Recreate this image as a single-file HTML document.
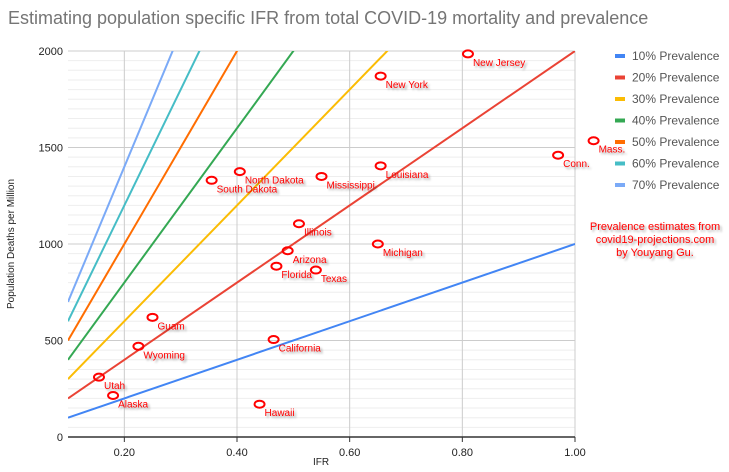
<!DOCTYPE html>
<html><head><meta charset="utf-8"><style>
body{margin:0;background:#fff;font-family:"Liberation Sans",Arial,sans-serif}
svg text{font-family:"Liberation Sans",Arial,sans-serif}
</style></head><body>
<svg width="729" height="467" viewBox="0 0 729 467">
<defs><filter id="sh" x="-10%" y="-30%" width="130%" height="180%"><feDropShadow dx="2" dy="2" stdDeviation="1" flood-color="#000" flood-opacity="0.35"/></filter>
<clipPath id="pc"><rect x="68" y="51" width="507" height="386"/></clipPath></defs>
<text x="8" y="24" font-size="18" fill="#757575">Estimating population specific IFR from total COVID-19 mortality and prevalence</text>
<g id="grid"></g><g id="lines" clip-path="url(#pc)"></g><g id="pts"></g><g id="axes"></g><g id="legend"></g>
<text x="14" y="244" font-size="10" fill="#222" transform="rotate(-90 14 244)" text-anchor="middle">Population Deaths per Million</text>
<text x="321" y="465" font-size="10" fill="#222" text-anchor="middle">IFR</text>
<g fill="#f00" font-size="11" text-anchor="middle" filter="url(#sh)">
<text x="655" y="230">Prevalence estimates from</text><text x="655" y="243">covid19-projections.com</text><text x="655" y="256">by Youyang Gu.</text></g>
</svg>
<script>
const prevalences=[10,20,30,40,50,60,70];
const seriesColors=["#4285f4","#ea4335","#fbbc04","#34a853","#ff6d01","#46bdc6","#7baaf7"];
const states=["New Jersey","New York","Mass.","Conn.","Louisiana","Mississippi","North Dakota","South Dakota","Illinois","Michigan","Arizona","Florida","Texas","Guam","Wyoming","California","Utah","Alaska","Hawaii"];
const stateIFR=[0.81,0.655,1.033,0.97,0.655,0.55,0.405,0.355,0.51,0.65,0.49,0.47,0.54,0.25,0.225,0.465,0.155,0.18,0.44];
const stateDeaths=[1985,1870,1535,1460,1405,1350,1375,1330,1105,1000,965,885,865,620,470,505,310,215,170];
const xTicks=[0.2,0.4,0.6,0.8,1.0];
const yTicks=[0,500,1000,1500,2000];
const NS="http://www.w3.org/2000/svg";
const X=v=>68+(v-0.1)*507/0.9, Y=v=>437-v*386/2000;
function mk(p,t,a){const e=document.createElementNS(NS,t);for(const k in a)e.setAttribute(k,a[k]);document.getElementById(p).appendChild(e);return e;}
for(let v=50;v<2000;v+=50){if(v%500){const l=mk('grid','line',{x1:68,x2:575,y1:Y(v),y2:Y(v),stroke:'#eee'});

}}
yTicks.forEach(v=>{if(v>0){const l=mk('grid','line',{x1:68,x2:575,y1:Y(v),y2:Y(v),stroke:'#ccc'});

}
const t=mk('axes','text',{x:63,y:Y(v)+4,'font-size':11,fill:'#222','text-anchor':'end'});t.textContent=v;

});
xTicks.forEach(v=>{const l=mk('grid','line',{x1:X(v),x2:X(v),y1:51,y2:437,stroke:'#ccc'});


const k=mk('axes','line',{x1:X(v),x2:X(v),y1:437,y2:442,stroke:'#333'});


const t=mk('axes','text',{x:X(v),y:456,'font-size':11,fill:'#222','text-anchor':'middle'});t.textContent=v.toFixed(2);

});
const ax=mk('axes','line',{x1:68,x2:575,y1:437,y2:437,stroke:'#333','stroke-width':1.5});


prevalences.forEach((p,i)=>{const x2=1.0,y1=0.1*p*100,y2=x2*p*100;
const l=mk('lines','line',{x1:X(0.1),y1:Y(y1),x2:X(x2),y2:Y(y2),stroke:seriesColors[i],'stroke-width':2});


const ly=56+i*21.5;
const sw=mk('legend','rect',{x:615,y:ly-2,width:10,height:4,fill:seriesColors[i]});


const t=mk('legend','text',{x:632,y:ly+4,'font-size':12,fill:'#555'});t.textContent=p+'% Prevalence';

});
states.forEach((s,i)=>{const cx=X(stateIFR[i]),cy=Y(stateDeaths[i]);
const e=mk('pts','ellipse',{cx:cx,cy:cy,rx:5,ry:3.5,fill:'none',stroke:'#f00','stroke-width':2});


const t=mk('pts','text',{x:cx+5,y:cy+12,'font-size':10,fill:'#f00',filter:'url(#sh)'});t.textContent=s;

});
</script>
</body></html>
